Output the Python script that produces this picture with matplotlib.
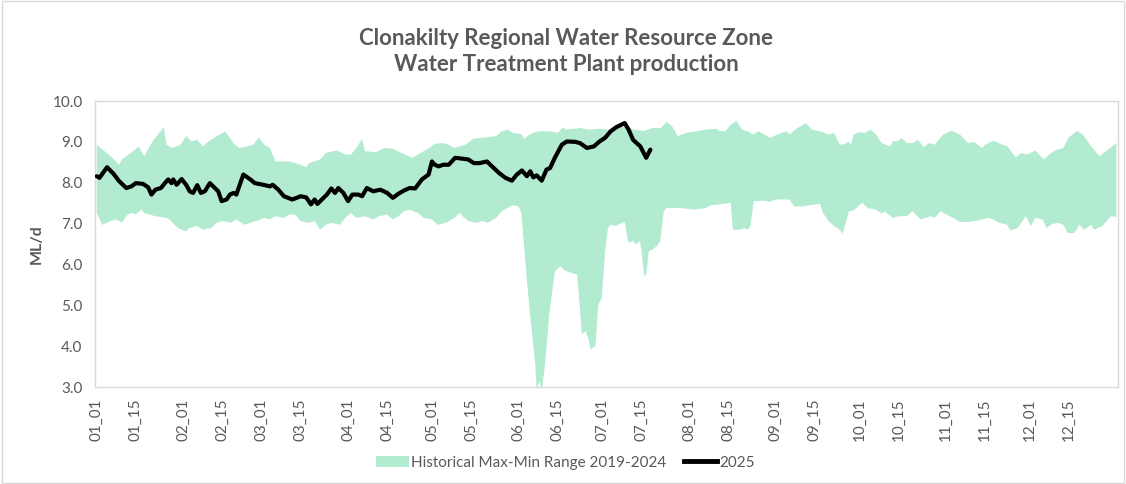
import numpy as np
import matplotlib
matplotlib.use("Agg")
import matplotlib.pyplot as plt
from matplotlib.patches import Patch, Rectangle
from matplotlib.lines import Line2D

plt.rcParams['font.family'] = ['Lato', 'DejaVu Sans']

title = "Clonakilty Regional Water Resource Zone\nWater Treatment Plant production"
ylabel = "ML/d"
band_label = "Historical Max-Min Range 2019-2024"
line_label = "2025"

# x tick labels (day-of-year index, non-leap year)
tick_days = [0, 14, 31, 45, 59, 73, 90, 104, 120, 134, 151, 165, 181, 195,
             212, 226, 243, 257, 273, 287, 304, 318, 334, 348]
tick_labels = ["01_01", "01_15", "02_01", "02_15", "03_01", "03_15", "04_01", "04_15",
               "05_01", "05_15", "06_01", "06_15", "07_01", "07_15", "08_01", "08_15",
               "09_01", "09_15", "10_01", "10_15", "11_01", "11_15", "12_01", "12_15"]

# Historical maximum (upper edge of band)
max_days = [0, 5, 8, 9, 13, 15, 17, 20, 24, 25, 27, 30, 32, 34, 36, 38, 40, 43, 46, 49,
            51, 54, 56, 58, 60, 62, 64, 69, 71, 73, 75, 76, 80, 82, 86, 89, 91, 93, 95, 96,
            100, 103, 106, 109, 113, 116, 119, 121, 124, 126, 128, 132, 135, 138, 143, 145,
            147, 149, 152, 153, 155, 158, 162, 165, 167, 168, 173, 176, 180, 184, 187, 190,
            192, 196, 199, 202, 204, 206, 208, 211, 215, 218, 222, 223, 225, 227, 229, 231,
            233, 235, 237, 238, 241, 244, 247, 248, 250, 254, 256, 259, 262, 264, 266, 268,
            269, 270, 271, 273, 275, 277, 279, 281, 284, 285, 287, 288, 290, 292, 294, 296,
            298, 300, 303, 306, 309, 312, 314, 317, 318, 321, 323, 326, 329, 331, 333, 336,
            339, 341, 343, 346, 348, 351, 353, 356, 359, 362, 365]
max_vals = [8.93, 8.65, 8.44, 8.57, 8.77, 8.89, 8.65, 9.01, 9.36, 8.93, 8.85, 8.93, 9.14,
            9.01, 9.05, 8.89, 9.01, 9.14, 9.26, 8.97, 8.85, 8.89, 8.93, 9.11, 8.93, 8.85,
            8.52, 8.52, 8.48, 8.44, 8.38, 8.48, 8.57, 8.73, 8.79, 8.69, 8.69, 8.85, 9.08,
            8.77, 8.75, 8.85, 8.83, 8.73, 8.61, 8.73, 8.85, 8.95, 8.97, 8.93, 8.85, 8.93,
            9.08, 9.10, 9.14, 9.26, 9.30, 9.22, 9.19, 9.08, 9.18, 9.26, 9.26, 9.22, 9.36,
            9.30, 9.34, 9.30, 9.32, 9.30, 9.36, 9.38, 9.30, 9.27, 9.34, 9.34, 9.49, 9.38,
            9.14, 9.22, 9.26, 9.30, 9.32, 9.27, 9.26, 9.42, 9.52, 9.30, 9.26, 9.18, 9.26,
            9.22, 9.10, 9.19, 9.26, 9.18, 9.30, 9.46, 9.30, 9.26, 9.18, 9.22, 8.93, 8.95,
            9.01, 8.93, 9.18, 9.24, 9.22, 9.30, 9.18, 8.97, 8.89, 9.01, 9.03, 9.10, 8.97,
            8.97, 9.05, 8.87, 8.97, 8.93, 9.18, 9.27, 9.18, 8.97, 9.00, 8.85, 8.93, 9.03,
            8.97, 8.89, 8.62, 8.73, 8.69, 8.79, 8.57, 8.69, 8.79, 8.85, 9.11, 9.27, 9.18,
            8.89, 8.65, 8.81, 8.97]

# Historical minimum (lower edge of band)
min_days = [0, 2, 5, 7, 9, 11, 13, 14, 16, 17, 19, 21, 25, 26, 29, 32, 33, 36, 38, 41,
            43, 45, 48, 50, 53, 55, 57, 60, 62, 64, 67, 69, 71, 73, 76, 78, 80, 82, 84, 87,
            89, 91, 93, 96, 99, 101, 104, 106, 108, 110, 112, 115, 117, 120, 122, 125, 128,
            130, 131, 133, 136, 138, 140, 143, 145, 147, 149, 151, 152, 153, 155, 157,
            157.5, 158.5, 159.3, 160.5, 162, 164, 166, 167, 168, 170, 172, 173.7, 175, 176,
            176.7, 178.5, 179.6, 180.8, 182, 183, 184, 186, 187, 189, 190, 190.5, 192, 193,
            194.5, 195.2, 196, 196.7, 197.6, 199, 200.6, 201.7, 203, 204, 209, 214, 218,
            220, 223, 227, 227.7, 230, 232, 233, 234, 235.2, 239, 241, 243, 248, 249.6, 253,
            255, 259, 260, 262, 264, 266, 267, 269.3, 271, 274, 276, 279, 281, 282, 285,
            287, 290, 292, 295, 298.6, 300, 302, 306, 309, 312, 315, 319, 321, 323, 326,
            327, 329.6, 332.6, 334.4, 336, 338.6, 340, 342, 344, 346, 347.6, 350, 351.7,
            353.5, 356, 357, 360, 363, 365]
min_vals = [7.26, 6.97, 7.06, 7.10, 7.02, 7.22, 7.26, 7.22, 7.34, 7.26, 7.22, 7.18, 7.14,
            7.10, 6.89, 6.81, 6.89, 6.94, 6.85, 6.89, 7.02, 7.06, 7.02, 7.10, 6.97, 7.02,
            7.06, 7.14, 7.10, 7.18, 7.14, 7.22, 7.22, 7.06, 7.02, 7.06, 6.85, 6.97, 7.02,
            6.97, 7.14, 7.26, 7.14, 7.18, 7.10, 7.18, 7.22, 7.10, 7.18, 7.30, 7.34, 7.26,
            7.14, 7.10, 6.97, 7.02, 7.14, 7.26, 7.18, 7.06, 7.02, 7.06, 7.02, 7.14, 7.30,
            7.38, 7.45, 7.42, 7.26, 6.41, 4.86, 3.55, 2.90, 3.15, 2.90, 3.55, 4.78, 5.83,
            5.96, 5.88, 5.84, 5.79, 5.75, 4.29, 4.37, 4.19, 3.92, 4.00, 5.02, 5.18, 6.32,
            6.89, 6.97, 6.94, 6.99, 7.04, 6.65, 6.53, 6.57, 6.49, 6.57, 6.24, 5.71, 5.75,
            6.32, 6.37, 6.45, 6.57, 7.30, 7.38, 7.38, 7.34, 7.38, 7.45, 7.47, 7.51, 6.85,
            6.85, 6.89, 6.85, 6.94, 7.55, 7.56, 7.53, 7.59, 7.59, 7.42, 7.42, 7.45, 7.48,
            7.26, 7.06, 6.94, 6.85, 6.75, 7.30, 7.32, 7.51, 7.38, 7.34, 7.24, 7.30, 7.14,
            7.18, 7.18, 7.30, 7.10, 7.18, 7.14, 7.30, 7.16, 7.04, 7.04, 7.07, 7.14, 7.10,
            7.02, 6.97, 6.83, 6.89, 7.18, 6.94, 7.14, 7.10, 6.89, 6.99, 7.02, 6.97, 6.77,
            6.77, 6.97, 6.85, 6.97, 6.85, 6.94, 7.18, 7.16]

# 2025 production
y2025_days = [0, 1, 3.7, 6, 8, 10.6, 12.4, 14, 16.6, 18.4, 19.6, 21, 23, 24.4, 25.6, 26.8,
              27.4, 28.6, 30.4, 32, 33.3, 34.5, 36, 37.3, 38.7, 40.5, 42.3, 43.5, 44.7,
              46.5, 47.7, 49, 50, 51, 52.5, 55, 56.6, 59.6, 62, 63, 65, 67, 70, 71.6, 73,
              75, 76.7, 78, 79, 80.6, 82.4, 84, 85.3, 86.5, 88.3, 90, 91.5, 93.7, 95, 96.7,
              99, 101.5, 104, 106, 108, 110, 112, 114, 116.4, 118.8, 120, 121, 122.4, 124,
              126, 128.3, 130.7, 133, 135, 137, 139.7, 141.5, 144, 146.3, 148.6, 150.4,
              152.2, 154, 155.2, 156.3, 157.5, 159.3, 161, 162.3, 164, 166.5, 168.3, 171.3,
              173, 175.5, 178, 180, 182, 184, 186, 189, 190.4, 192, 194.6, 196.7, 198.2]
y2025_vals = [8.16, 8.12, 8.38, 8.22, 8.04, 7.87, 7.91, 7.99, 7.97, 7.89, 7.71, 7.83, 7.87,
              7.99, 8.08, 7.99, 8.08, 7.95, 8.09, 7.95, 7.79, 7.75, 7.94, 7.75, 7.79, 7.99,
              7.87, 7.79, 7.55, 7.59, 7.71, 7.75, 7.71, 7.91, 8.20, 8.08, 7.99, 7.95, 7.91,
              7.95, 7.83, 7.67, 7.59, 7.63, 7.67, 7.64, 7.47, 7.59, 7.48, 7.59, 7.71, 7.86,
              7.75, 7.87, 7.75, 7.55, 7.71, 7.71, 7.67, 7.87, 7.79, 7.83, 7.75, 7.63, 7.73,
              7.81, 7.87, 7.86, 8.08, 8.20, 8.52, 8.44, 8.40, 8.44, 8.44, 8.61, 8.59, 8.57,
              8.48, 8.48, 8.52, 8.40, 8.24, 8.12, 8.05, 8.20, 8.30, 8.16, 8.28, 8.13, 8.18,
              8.05, 8.32, 8.36, 8.61, 8.93, 9.01, 9.00, 8.97, 8.85, 8.89, 9.01, 9.10, 9.26,
              9.36, 9.46, 9.30, 9.05, 8.89, 8.61, 8.81]

band_color = "#b3ebd1"
text_color = "#595959"
frame_color = "#d9d9d9"

fig = plt.figure(figsize=(11.26, 4.84), dpi=100)
ax = fig.add_axes([0.0844, 0.2004, 0.9085, 0.5909])

poly_x = np.concatenate([np.array(max_days, float), np.array(min_days, float)[::-1]])
poly_y = np.concatenate([np.array(max_vals), np.array(min_vals)[::-1]])
ax.fill(poly_x, poly_y, color=band_color, lw=0, zorder=1)
ax.plot(y2025_days, y2025_vals, color="black", lw=3.0, solid_joinstyle="round",
        solid_capstyle="round", zorder=3)

ax.set_xlim(-0.6, 365.6)
ax.set_ylim(3.0, 10.0)
ax.set_yticks(np.arange(3.0, 10.01, 1.0))
ax.set_yticklabels([f"{v:.1f}" for v in np.arange(3.0, 10.01, 1.0)])
ax.set_xticks(tick_days)
ax.set_xticklabels(tick_labels, rotation=90)
ax.tick_params(axis="both", length=0, colors=text_color, labelsize=11)
ax.tick_params(axis="y", pad=9)
ax.tick_params(axis="x", pad=8)
for s in ax.spines.values():
    s.set_color(frame_color)
    s.set_linewidth(1.0)

ax.set_ylabel(ylabel, fontsize=11.5, fontweight="bold", color=text_color, labelpad=6)

fig.text(0.503, 0.894, title, ha="center", va="center", fontsize=16,
         fontweight="bold", color=text_color, linespacing=1.3)

handles = [Patch(facecolor=band_color, edgecolor="none", label=band_label),
           Line2D([0], [0], color="black", lw=3.5, label=line_label)]
fig.legend(handles=handles, loc="center", bbox_to_anchor=(0.502, 0.044), ncol=2,
           frameon=False, fontsize=11, labelcolor=text_color, handlelength=2.2,
           handletextpad=0.15, columnspacing=1.1)

fig.patches.append(Rectangle((0.002, 0.003), 0.996, 0.994, transform=fig.transFigure,
                             fill=False, edgecolor=frame_color, lw=1.0))

fig.savefig("out.png", dpi=100)
